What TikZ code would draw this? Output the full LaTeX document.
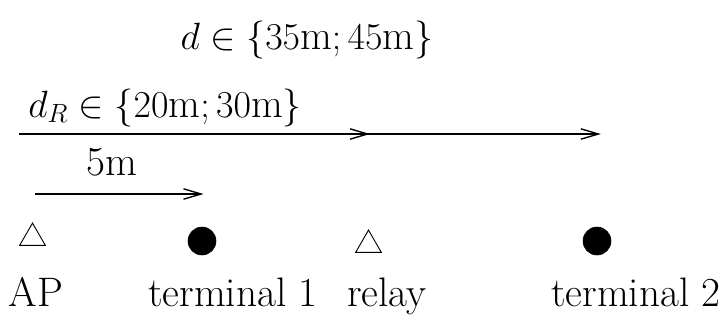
\documentclass[tikz,border=0pt]{standalone}
\usepackage{amssymb}
\usepackage{amsmath}
\usepackage{tikz}
\usetikzlibrary{arrows.meta,shapes.geometric}

\begin{document}
\begin{tikzpicture}[
    x=0.655pt, y=-0.655pt,
    font=\fontsize{27}{32}\selectfont,
    lbl/.style  = {inner sep=0pt, anchor=base},
    apx/.style  = {draw, regular polygon, regular polygon sides=3,
                   minimum size=19.5pt, inner sep=0pt, line width=0.6pt},
    term/.style = {draw, circle, fill=black, minimum size=18.3pt,
                   inner sep=0pt},
    arr/.style  = {-{Straight Barb[length=11.5pt, width=6.8pt]},
                   line width=0.9pt},
]
\useasboundingbox (0,0) rectangle (724,324);

% ============ stations ============
\node[apx]  (ap)    at (32.5,238) {};
\node[term] (t1)    at (202,241) {};
\node[apx]  (relay) at (368.5,245) {};
\node[term] (t2)    at (597,241) {};

% ============ names ============
\node[lbl] (apl)    at (36,306)  {AP};
\node[lbl] (t1l)    at (233,306) {terminal 1};
\node[lbl] (relayl) at (387,306) {relay};
\node[lbl] (t2l)    at (636,306) {terminal 2};

% ============ distances ============
\coordinate (dstart) at (19,134);
\coordinate (ostart) at (35,194);

\draw[arr] (dstart) -- ([xshift=2.5pt]dstart -| t2);
\draw[arr] (dstart) -- ([xshift=1pt]dstart -| relay);
\draw[arr] (ostart) -- ([xshift=1pt]ostart -| t1);

\node[lbl] (dl)  at (307,49) {$d \in \{35\text{m}; 45\text{m}\}$};
\node[lbl, anchor=base west] (drl) at (28,117)
    {$d_R \in \{20\text{m}; 30\text{m}\}$};
\node[lbl] (ol)  at (112,175) {5m};

\end{tikzpicture}
\end{document}
